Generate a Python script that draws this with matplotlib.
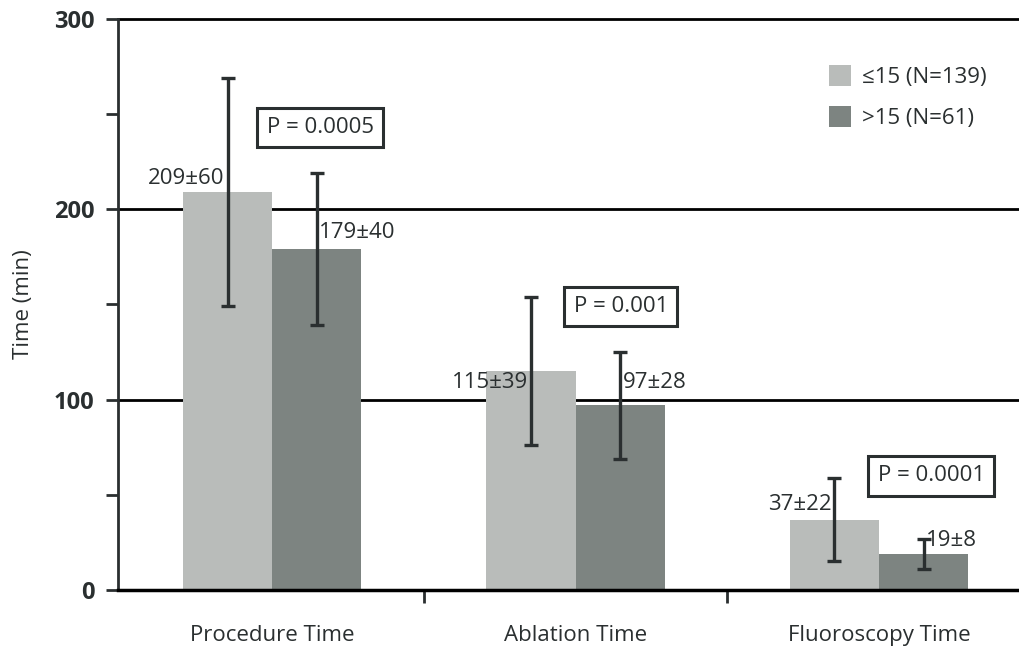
import matplotlib
matplotlib.use("Agg")
import matplotlib.pyplot as plt
import numpy as np

plt.rcParams["font.family"] = ["Open Sans", "DejaVu Sans"]

categories = ["Procedure Time", "Ablation Time", "Fluoroscopy Time"]
low_means = [209, 115, 37]
low_sd = [60, 39, 22]
high_means = [179, 97, 19]
high_sd = [40, 28, 8]
low_labels = ["209±60", "115±39", "37±22"]
high_labels = ["179±40", "97±28", "19±8"]
p_values = ["P = 0.0005", "P = 0.001", "P = 0.0001"]
series_names = ["≤15 (N=139)", ">15 (N=61)"]

fig = plt.figure(figsize=(10.2, 6.5), dpi=100)
ax = fig.add_axes([0.1157, 0.0923, 0.8843, 0.8785])

x = np.arange(len(categories))
w = 0.294
dark = "#2a2f30"
fs = 16

ax.bar(x - w / 2, low_means, w, color="#b9bcba", label=series_names[0], zorder=2)
ax.bar(x + w / 2, high_means, w, color="#7d8481", label=series_names[1], zorder=2)
ax.errorbar(x - w / 2, low_means, yerr=low_sd, fmt="none", ecolor=dark,
            elinewidth=2.4, capsize=5, capthick=2.4, zorder=3)
ax.errorbar(x + w / 2, high_means, yerr=high_sd, fmt="none", ecolor=dark,
            elinewidth=2.4, capsize=5, capthick=2.4, zorder=3)

for yv in [100, 200, 300]:
    ax.axhline(yv, color="black", lw=2, zorder=1, clip_on=False)

# value labels (vertical centres of the text)
low_y = [216, 109, 45]
high_y = [188, 109, 26]
for i in range(3):
    ax.text(x[i] - w / 2 - 0.01, low_y[i], low_labels[i], ha="right",
            va="center", fontsize=fs, color=dark, zorder=4)
    ax.text(x[i] + w / 2 + 0.008, high_y[i], high_labels[i], ha="left",
            va="center", fontsize=fs, color=dark, zorder=4)

# p-value boxes
p_pos = [(0.158, 243), (1.149, 149), (2.172, 60)]
for (px, py), s in zip(p_pos, p_values):
    ax.text(px, py, s, ha="center", va="center", fontsize=fs, color=dark,
            bbox=dict(boxstyle="square,pad=0.42", fc="white", ec=dark, lw=2.2),
            zorder=4)

ax.set_xlim(-0.508, 2.465)
ax.set_ylim(0, 300)
ax.set_yticks([0, 100, 200, 300])
ax.set_yticks([50, 150, 250], minor=True)
ax.set_yticklabels(["0", "100", "200", "300"], fontsize=17, fontweight="bold",
                   color=dark)
ax.tick_params(axis="y", which="both", length=9, width=2, color=dark, pad=8)
ax.set_xticks([0.5, 1.5])
ax.set_xticklabels([])
ax.tick_params(axis="x", length=9, width=2, color=dark)
for i, c in enumerate(categories):
    ax.text(x[i], -24, c, ha="center", va="center", fontsize=fs, color=dark)

ax.set_ylabel("Time (min)", fontsize=fs, color=dark, labelpad=14)

for s in ["top", "right"]:
    ax.spines[s].set_visible(False)
ax.spines["left"].set_linewidth(2)
ax.spines["left"].set_color(dark)
ax.spines["bottom"].set_linewidth(2.5)
ax.spines["bottom"].set_color("black")

ax.legend(loc="upper right", bbox_to_anchor=(0.985, 0.955), frameon=False,
          fontsize=fs, handlelength=1.0, handleheight=1.1, handletextpad=0.5,
          labelspacing=0.8, labelcolor=dark)

fig.savefig("out.png", dpi=100)
